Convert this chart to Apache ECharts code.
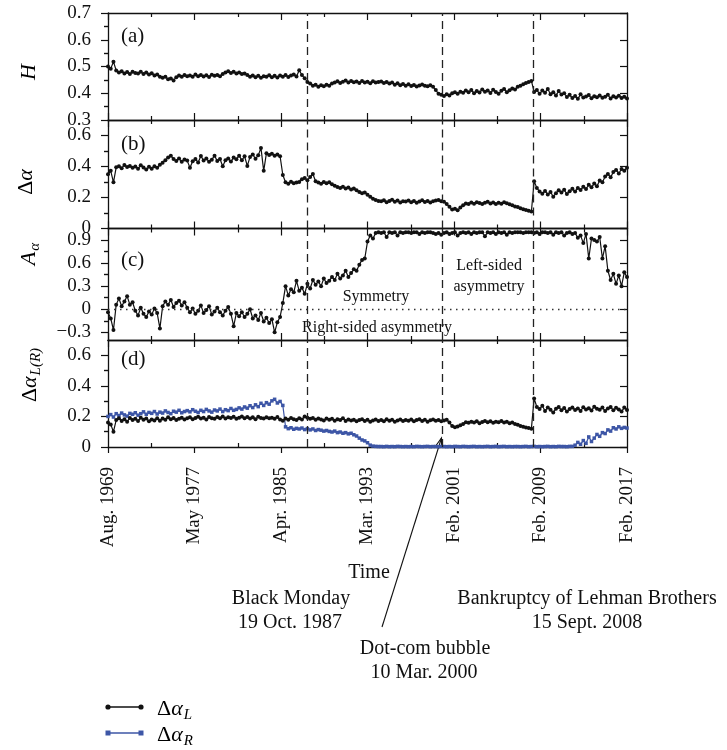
<!DOCTYPE html>
<html>
<head>
<meta charset="utf-8">
<script src="https://cdn.jsdelivr.net/npm/echarts@6.0.0/dist/echarts.min.js"></script>
<style>
  html, body { margin: 0; padding: 0; background: #fff; }
  #chart { width: 727px; height: 750px; }
</style>
</head>
<body>
<div id="chart"></div>
<script>
// --- Data (one value every 3 window steps, 0..570) ---
const xStep = 3;
const xTickLabels = ['Aug. 1969', 'May 1977', 'Apr. 1985', 'Mar. 1993', 'Feb. 2001', 'Feb. 2009', 'Feb. 2017'];
// Black Monday, Dot-com bubble, Lehman Brothers (x positions on the same scale)
const eventIdx = [218.5, 367.6, 467.1];

// y ticks per panel
const ticksH = [0.3, 0.4, 0.5, 0.6, 0.7];
const minorH = [0.35, 0.45, 0.55, 0.65];
const ticksWidth = [0, 0.2, 0.4, 0.6];
const minorWidth = [0.1, 0.3, 0.5];
const ticksAsym = [-0.3, 0, 0.3, 0.6, 0.9];
const minorAsym = [-0.15, 0.15, 0.45, 0.75];

const hurst = [
  0.500, 0.492, 0.518, 0.485, 0.478, 0.482, 0.474, 0.479, 0.472, 0.480,
  0.476, 0.474, 0.480, 0.472, 0.478, 0.470, 0.475, 0.466, 0.470, 0.462,
  0.458, 0.462, 0.452, 0.455, 0.448, 0.460, 0.466, 0.462, 0.468, 0.464,
  0.466, 0.462, 0.470, 0.464, 0.468, 0.463, 0.467, 0.461, 0.469, 0.465,
  0.468, 0.464, 0.472, 0.478, 0.482, 0.476, 0.480, 0.474, 0.478, 0.472,
  0.474, 0.468, 0.462, 0.466, 0.460, 0.465, 0.458, 0.464, 0.462, 0.467,
  0.460, 0.465, 0.459, 0.466, 0.462, 0.468, 0.461, 0.466, 0.470, 0.463,
  0.486, 0.468, 0.456, 0.442, 0.436, 0.428, 0.432, 0.424, 0.430, 0.426,
  0.432, 0.428, 0.436, 0.440, 0.445, 0.438, 0.443, 0.448, 0.440, 0.446,
  0.441, 0.444, 0.438, 0.446, 0.440, 0.443, 0.437, 0.445, 0.440, 0.442,
  0.444, 0.438, 0.442, 0.436, 0.440, 0.432, 0.437, 0.430, 0.435, 0.428,
  0.434, 0.427, 0.431, 0.425, 0.429, 0.433, 0.428, 0.426, 0.430, 0.424,
  0.412, 0.398, 0.394, 0.390, 0.396, 0.392, 0.400, 0.404, 0.398, 0.406,
  0.402, 0.410, 0.404, 0.412, 0.400, 0.408, 0.403, 0.414, 0.406, 0.410,
  0.401, 0.413, 0.405, 0.398, 0.409, 0.416, 0.404, 0.411, 0.418, 0.414,
  0.424, 0.428, 0.434, 0.438, 0.442, 0.446, 0.405, 0.412, 0.398, 0.410,
  0.402, 0.416, 0.396, 0.404, 0.392, 0.408, 0.395, 0.400, 0.386, 0.394,
  0.382, 0.390, 0.379, 0.396, 0.384, 0.388, 0.393, 0.381, 0.389, 0.385,
  0.392, 0.383, 0.387, 0.394, 0.380, 0.389, 0.384, 0.391, 0.382, 0.387,
  0.380
];

const deltaAlpha = [
  0.350, 0.372, 0.298, 0.395, 0.402, 0.388, 0.410, 0.396, 0.404, 0.392,
  0.400, 0.386, 0.408, 0.394, 0.380, 0.398, 0.385, 0.402, 0.392, 0.412,
  0.425, 0.440, 0.458, 0.470, 0.448, 0.436, 0.452, 0.430, 0.445, 0.438,
  0.392, 0.434, 0.448, 0.426, 0.468, 0.438, 0.452, 0.430, 0.444, 0.470,
  0.436, 0.448, 0.402, 0.440, 0.452, 0.432, 0.458, 0.446, 0.470, 0.440,
  0.466, 0.404, 0.462, 0.478, 0.450, 0.472, 0.520, 0.372, 0.486, 0.474,
  0.482, 0.470, 0.478, 0.466, 0.345, 0.298, 0.288, 0.302, 0.292, 0.296,
  0.300, 0.318, 0.326, 0.312, 0.332, 0.352, 0.305, 0.296, 0.288, 0.300,
  0.292, 0.298, 0.286, 0.276, 0.268, 0.262, 0.270, 0.258, 0.264, 0.252,
  0.258, 0.246, 0.236, 0.228, 0.232, 0.218, 0.205, 0.192, 0.184, 0.178,
  0.176, 0.182, 0.170, 0.178, 0.186, 0.172, 0.180, 0.168, 0.176, 0.174,
  0.180, 0.170, 0.177, 0.166, 0.175, 0.182, 0.171, 0.178, 0.168, 0.176,
  0.180, 0.184, 0.176, 0.172, 0.158, 0.140, 0.122, 0.128, 0.118, 0.135,
  0.150, 0.162, 0.158, 0.168, 0.160, 0.170, 0.164, 0.158, 0.166, 0.172,
  0.162, 0.168, 0.158, 0.166, 0.160, 0.170, 0.163, 0.156, 0.150, 0.142,
  0.138, 0.130, 0.125, 0.120, 0.114, 0.110, 0.305, 0.262, 0.238, 0.225,
  0.242, 0.220, 0.236, 0.205, 0.228, 0.246, 0.232, 0.250, 0.222, 0.240,
  0.256, 0.238, 0.262, 0.248, 0.270, 0.255, 0.282, 0.266, 0.290, 0.272,
  0.310, 0.298, 0.335, 0.352, 0.330, 0.364, 0.378, 0.355, 0.384, 0.372,
  0.392
];

const asymAlpha = [
  -0.04, -0.12, -0.27, 0.06, 0.14, 0.04, 0.10, 0.17, 0.06, 0.09,
  -0.02, -0.08, 0.02, -0.06, -0.10, -0.03, -0.07, 0.01, -0.05, -0.25,
  0.04, 0.10, 0.06, 0.12, 0.03, 0.08, 0.11, 0.05, 0.09, 0.02,
  -0.04, 0.01, -0.06, -0.02, 0.05, -0.05, -0.01, 0.04, -0.07, -0.03,
  0.02, -0.04, -0.08, -0.02, 0.03, -0.06, -0.22, -0.05, -0.09, -0.04,
  -0.10, -0.06, 0.00, -0.12, -0.08, -0.14, -0.05, -0.16, -0.11, -0.18,
  -0.13, -0.30, -0.17, -0.10, 0.08, 0.30, 0.18, 0.26, 0.22, 0.37,
  0.24, 0.28, 0.20, 0.33, 0.27, 0.38, 0.32, 0.36, 0.30, 0.40,
  0.34, 0.37, 0.42, 0.38, 0.46, 0.40, 0.44, 0.50, 0.42, 0.47,
  0.52, 0.50, 0.58, 0.64, 0.66, 0.88, 0.96, 0.92, 0.99, 1.00,
  0.99, 1.00, 0.94, 1.00, 0.99, 1.00, 0.96, 1.00, 0.99, 1.00,
  1.00, 0.99, 1.00, 1.00, 0.98, 1.00, 0.99, 1.00, 1.00, 0.99,
  0.98, 0.99, 0.97, 0.99, 1.00, 0.98, 0.99, 1.00, 0.96, 0.99,
  1.00, 0.99, 1.00, 0.98, 1.00, 0.99, 1.00, 1.00, 0.95, 1.00,
  0.99, 1.00, 0.98, 1.00, 0.99, 1.00, 0.97, 1.00, 0.99, 1.00,
  1.00, 1.00, 0.99, 1.00, 1.00, 1.00, 0.99, 1.00, 0.98, 1.00,
  1.00, 0.99, 1.00, 0.97, 1.00, 0.99, 1.00, 0.96, 0.99, 1.00,
  0.98, 0.99, 0.93, 0.96, 0.86, 0.98, 0.66, 0.92, 0.90, 0.88,
  0.94, 0.66, 0.82, 0.50, 0.38, 0.46, 0.33, 0.44, 0.30, 0.48,
  0.42
];

const deltaAlphaL = [
  0.160, 0.148, 0.100, 0.176, 0.188, 0.170, 0.182, 0.165, 0.190, 0.176,
  0.184, 0.170, 0.192, 0.178, 0.186, 0.168, 0.180, 0.174, 0.188, 0.172,
  0.186, 0.178, 0.194, 0.182, 0.190, 0.176, 0.185, 0.192, 0.180, 0.188,
  0.194, 0.182, 0.190, 0.198, 0.186, 0.192, 0.180, 0.196, 0.188, 0.184,
  0.196, 0.188, 0.200, 0.186, 0.194, 0.190, 0.198, 0.184, 0.192, 0.200,
  0.188, 0.196, 0.186, 0.194, 0.182, 0.198, 0.190, 0.186, 0.195, 0.188,
  0.192, 0.184, 0.196, 0.180, 0.172, 0.186, 0.178, 0.190, 0.182, 0.176,
  0.188, 0.180, 0.200, 0.192, 0.184, 0.190, 0.178, 0.186, 0.180, 0.174,
  0.186, 0.178, 0.184, 0.172, 0.182, 0.176, 0.188, 0.170, 0.180, 0.174,
  0.178, 0.168, 0.176, 0.182, 0.170, 0.178, 0.166, 0.174, 0.180, 0.170,
  0.176, 0.168, 0.182, 0.172, 0.178, 0.165, 0.174, 0.180, 0.170, 0.176,
  0.172, 0.180, 0.168, 0.176, 0.182, 0.170, 0.178, 0.166, 0.175, 0.180,
  0.172, 0.176, 0.168, 0.174, 0.178, 0.160, 0.138, 0.130, 0.134, 0.142,
  0.150, 0.162, 0.158, 0.166, 0.160, 0.168, 0.156, 0.164, 0.170, 0.162,
  0.168, 0.158, 0.166, 0.162, 0.170, 0.160, 0.165, 0.155, 0.160, 0.150,
  0.145, 0.138, 0.132, 0.128, 0.124, 0.120, 0.318, 0.262, 0.248, 0.270,
  0.236, 0.258, 0.244, 0.226, 0.250, 0.262, 0.240, 0.255, 0.232, 0.248,
  0.258, 0.242, 0.252, 0.236, 0.260, 0.246, 0.254, 0.238, 0.264, 0.250,
  0.244, 0.258, 0.236, 0.252, 0.262, 0.240, 0.256, 0.246, 0.232, 0.258,
  0.242
];

const deltaAlphaR = [
  0.200, 0.212, 0.196, 0.218, 0.206, 0.222, 0.210, 0.202, 0.220, 0.214,
  0.224, 0.208, 0.218, 0.230, 0.214, 0.226, 0.220, 0.232, 0.216, 0.228,
  0.222, 0.236, 0.226, 0.218, 0.234, 0.228, 0.240, 0.224, 0.232, 0.238,
  0.230, 0.244, 0.234, 0.226, 0.240, 0.232, 0.246, 0.236, 0.228, 0.242,
  0.236, 0.248, 0.232, 0.244, 0.238, 0.252, 0.240, 0.246, 0.256, 0.248,
  0.262, 0.254, 0.270, 0.258, 0.276, 0.264, 0.286, 0.272, 0.290, 0.280,
  0.302, 0.312, 0.288, 0.298, 0.272, 0.132, 0.120, 0.126, 0.116, 0.122,
  0.118, 0.124, 0.114, 0.120, 0.112, 0.118, 0.108, 0.114, 0.110, 0.104,
  0.108, 0.102, 0.098, 0.104, 0.094, 0.098, 0.090, 0.094, 0.086, 0.090,
  0.080, 0.072, 0.058, 0.046, 0.040, 0.028, 0.012, 0.006, 0.004, 0.003,
  0.003, 0.002, 0.004, 0.002, 0.003, 0.002, 0.004, 0.003, 0.002, 0.003,
  0.002, 0.003, 0.002, 0.004, 0.003, 0.002, 0.003, 0.004, 0.002, 0.003,
  0.003, 0.002, 0.004, 0.003, 0.002, 0.003, 0.002, 0.004, 0.003, 0.002,
  0.004, 0.003, 0.002, 0.003, 0.004, 0.002, 0.003, 0.002, 0.003, 0.004,
  0.002, 0.003, 0.004, 0.002, 0.003, 0.004, 0.002, 0.003, 0.002, 0.003,
  0.003, 0.002, 0.003, 0.004, 0.002, 0.003, 0.004, 0.002, 0.003, 0.002,
  0.003, 0.004, 0.002, 0.003, 0.002, 0.004, 0.003, 0.003, 0.002, 0.004,
  0.004, 0.012, 0.030, 0.018, 0.042, 0.024, 0.066, 0.036, 0.058, 0.082,
  0.070, 0.094, 0.088, 0.112, 0.104, 0.126, 0.118, 0.132, 0.122, 0.128,
  0.124
];

// --- Look ---
const FONT = 'Liberation Serif';
const INK = '#111';
const BLUE = '#3d56a6';

function pairs(arr) {
  return arr.map((v, i) => [i * xStep, v]);
}

function fmtTick(v) {
  if (Math.abs(v) < 1e-9) return '0';
  return (v < 0 ? '\u2212' : '') + Math.abs(v).toFixed(1);
}

// panel layout: (a) H, (b) delta alpha, (c) A alpha, (d) delta alpha L/R
const panels = [
  { top: 13, height: 107, min: 0.3, max: 0.7, major: ticksH, minor: minorH },
  { top: 120, height: 108.5, min: 0, max: 0.7, major: ticksWidth, minor: minorWidth },
  { top: 228.5, height: 111.5, min: -0.4, max: 1.05, major: ticksAsym, minor: minorAsym },
  { top: 340, height: 107, min: 0, max: 0.7, major: ticksWidth, minor: minorWidth },
];

const axisLine = { show: true, onZero: false, lineStyle: { color: INK, width: 1.3 } };
const tickStyle = { color: INK, width: 1.2 };

const grid = panels.map(p => ({ left: 108, width: 519, top: p.top, height: p.height }));

const xAxis = [];
const yAxis = [];
panels.forEach((p, gi) => {
  const last = gi === panels.length - 1;
  xAxis.push({
    type: 'value', gridIndex: gi, position: 'bottom', min: 0, max: 570, interval: 95,
    axisLine,
    axisTick: { show: true, inside: !last, length: last ? 6 : 7, lineStyle: tickStyle },
    minorTick: { show: !last, splitNumber: 2, length: 4, lineStyle: tickStyle },
    splitLine: { show: false },
    axisLabel: {
      show: last, rotate: 90, margin: 20, color: INK, fontFamily: FONT, fontSize: 19,
      formatter: v => xTickLabels[Math.round(v / 95)] || '',
    },
  });
  xAxis.push({
    type: 'value', gridIndex: gi, position: 'top', min: 0, max: 570, interval: 95,
    axisLine,
    axisTick: { show: true, inside: true, length: 7, lineStyle: tickStyle },
    minorTick: { show: true, splitNumber: 2, length: 4, lineStyle: tickStyle },
    splitLine: { show: false },
    axisLabel: { show: false },
  });

  // left: labelled major ticks, then short minor ticks; right: same, pointing inwards
  [['left', false], ['right', true]].forEach(([pos, inside]) => {
    yAxis.push({
      type: 'value', gridIndex: gi, position: pos, min: p.min, max: p.max,
      axisLine,
      axisTick: { show: true, inside, length: 7, lineStyle: tickStyle, customValues: p.major },
      splitLine: { show: false },
      axisLabel: {
        show: !inside, margin: 17, color: INK, fontFamily: FONT, fontSize: 19,
        customValues: p.major, formatter: fmtTick,
      },
    });
    yAxis.push({
      type: 'value', gridIndex: gi, position: pos, min: p.min, max: p.max,
      axisLine: { show: false },
      axisTick: { show: true, inside, length: 4, lineStyle: tickStyle, customValues: p.minor },
      splitLine: { show: false },
      axisLabel: { show: false, customValues: p.minor },
    });
  });
});
// minor ticks pointing up on the bottom axis of the last panel
xAxis.push({
  type: 'value', gridIndex: 3, position: 'bottom', min: 0, max: 570, interval: 95,
  axisLine: { show: false },
  axisTick: { show: false, inside: true },
  minorTick: { show: true, splitNumber: 2, length: 4, lineStyle: tickStyle },
  splitLine: { show: false },
  axisLabel: { show: false },
});

const eventLines = eventIdx.map(x => ({ xAxis: x }));

function markLines(extra) {
  return {
    silent: true, symbol: ['none', 'none'], label: { show: false }, animation: false,
    lineStyle: { color: '#222', width: 1.3, type: [8, 5] },
    emphasis: { disabled: true },
    data: eventLines.concat(extra || []),
  };
}

function blackSeries(name, data, gi, extra) {
  return {
    name, type: 'line', xAxisIndex: gi * 2, yAxisIndex: gi * 4, data: pairs(data),
    symbol: 'circle', symbolSize: 4, showSymbol: true, showAllSymbol: true, z: 3,
    lineStyle: { color: INK, width: 1.2 },
    itemStyle: { color: INK },
    markLine: markLines(extra),
  };
}

const series = [
  blackSeries('H', hurst, 0),
  blackSeries('dAlpha', deltaAlpha, 1),
  blackSeries('Aalpha', asymAlpha, 2, [{ yAxis: 0, lineStyle: { type: [1.5, 4.5], color: '#333', width: 1.3 } }]),
  {
    name: 'dAlphaR', type: 'line', xAxisIndex: 6, yAxisIndex: 12, data: pairs(deltaAlphaR),
    symbol: 'rect', symbolSize: 3.5, showAllSymbol: true, z: 2,
    lineStyle: { color: BLUE, width: 1.2 },
    itemStyle: { color: BLUE },
  },
  blackSeries('dAlphaL', deltaAlphaL, 3),
];

// --- Text, labels and legend ---
const nameRich = {
  n: { fontFamily: FONT, fontSize: 22, color: INK },
  i: { fontFamily: FONT, fontSize: 22, fontStyle: 'italic', color: INK },
  s: { fontFamily: FONT, fontSize: 15, fontStyle: 'italic', color: INK, padding: [12, 0, 0, 1] },
};

function vName(text, x, y) {
  return {
    type: 'text', x, y, rotation: Math.PI / 2,
    style: { text, rich: nameRich, textAlign: 'center', textVerticalAlign: 'middle' },
  };
}

function label(text, x, y, size, align) {
  return {
    type: 'text', x, y,
    style: {
      text, fontFamily: FONT, fontSize: size, fill: INK,
      textAlign: align || 'center', textVerticalAlign: 'middle',
    },
  };
}

// arrow from the dot-com note up to the Mar. 2000 line
const arrowFrom = [382, 627];
const arrowTo = [441.5, 438];
const ang = Math.atan2(arrowTo[1] - arrowFrom[1], arrowTo[0] - arrowFrom[0]);
const headLen = 9, headSpread = 0.32;
const arrowHead = [
  [arrowTo[0] - headLen * Math.cos(ang - headSpread), arrowTo[1] - headLen * Math.sin(ang - headSpread)],
  arrowTo,
  [arrowTo[0] - headLen * Math.cos(ang + headSpread), arrowTo[1] - headLen * Math.sin(ang + headSpread)],
];

const graphic = [
  vName('{i|H}', 29, 72),
  vName('{n|Δ}{i|α}', 26, 182),
  vName('{i|A}{s|α}', 29, 254),
  vName('{n|Δ}{i|α}{s|L(R)}', 30, 375),

  label('(a)', 121, 36, 21, 'left'),
  label('(b)', 121, 144, 21, 'left'),
  label('(c)', 121, 260, 21, 'left'),
  label('(d)', 121, 359, 21, 'left'),

  label('Symmetry', 376, 297, 16),
  label('Right-sided asymmetry', 377, 328, 16),
  label('Left-sided', 489, 266, 16),
  label('asymmetry', 489, 287, 16),

  label('Time', 369, 573, 20),
  label('Black Monday', 291, 599, 20),
  label('19 Oct. 1987', 290, 623, 20),
  label('Bankruptcy of Lehman Brothers', 587, 599, 20),
  label('15 Sept. 2008', 587, 623, 20),
  label('Dot-com bubble', 425, 649, 20),
  label('10 Mar. 2000', 424, 673, 20),

  { type: 'line', shape: { x1: arrowFrom[0], y1: arrowFrom[1], x2: arrowTo[0], y2: arrowTo[1] },
    style: { stroke: INK, lineWidth: 1.1 } },
  { type: 'polyline', shape: { points: arrowHead }, style: { stroke: INK, lineWidth: 1.1, fill: null } },

  // legend
  { type: 'line', shape: { x1: 108, y1: 707, x2: 141, y2: 707 }, style: { stroke: INK, lineWidth: 1.5 } },
  { type: 'circle', shape: { cx: 108, cy: 707, r: 2.6 }, style: { fill: INK } },
  { type: 'circle', shape: { cx: 141, cy: 707, r: 2.6 }, style: { fill: INK } },
  { type: 'text', x: 157, y: 709, style: { text: '{n|Δ}{i|α}{s|L}', rich: nameRich, textAlign: 'left', textVerticalAlign: 'middle' } },
  { type: 'line', shape: { x1: 108, y1: 733, x2: 141, y2: 733 }, style: { stroke: BLUE, lineWidth: 1.5 } },
  { type: 'rect', shape: { x: 105.5, y: 730.5, width: 5, height: 5 }, style: { fill: BLUE } },
  { type: 'rect', shape: { x: 138.5, y: 730.5, width: 5, height: 5 }, style: { fill: BLUE } },
  { type: 'text', x: 157, y: 735, style: { text: '{n|Δ}{i|α}{s|R}', rich: nameRich, textAlign: 'left', textVerticalAlign: 'middle' } },
];

const chart = echarts.init(document.getElementById('chart'), null, { renderer: 'canvas' });
chart.setOption({
  backgroundColor: '#fff',
  animation: false,
  textStyle: { fontFamily: FONT },
  grid, xAxis, yAxis, series, graphic,
});
</script>
</body>
</html>
